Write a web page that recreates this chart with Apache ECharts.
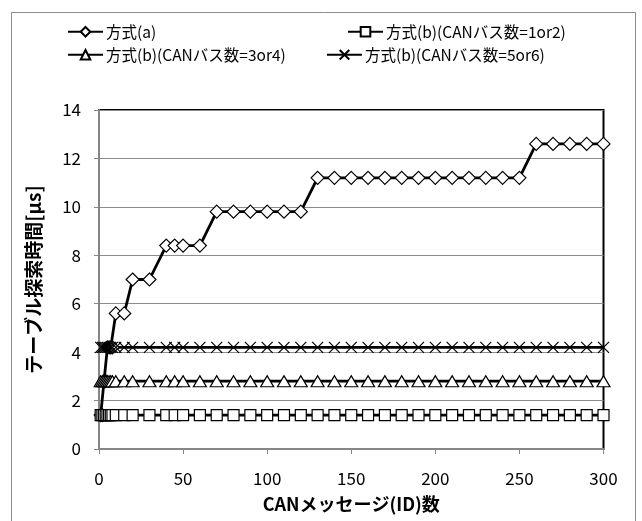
<!DOCTYPE html>
<html>
<head>
<meta charset="utf-8">
<script src="https://cdn.jsdelivr.net/npm/echarts@6/dist/echarts.min.js"></script>
<style>
html,body{margin:0;padding:0;background:#fff;}
#chart{width:642px;height:521px;}
</style>
</head>
<body>
<div id="chart"></div>
<script>
var xValues = [1,2,3,4,5,6,7,8,10,15,20,30,40,45,50,60,70,80,90,100,110,120,130,140,150,160,170,180,190,200,210,220,230,240,250,260,270,280,290,300];
var seriesA = [1.4,1.4,2.8,2.8,4.2,4.2,4.2,4.2,5.6,5.6,7.0,7.0,8.4,8.4,8.4,8.4,9.8,9.8,9.8,9.8,9.8,9.8,11.2,11.2,11.2,11.2,11.2,11.2,11.2,11.2,11.2,11.2,11.2,11.2,11.2,12.6,12.6,12.6,12.6,12.6];
var seriesB12 = [1.4,1.4,1.4,1.4,1.4,1.4,1.4,1.4,1.4,1.4,1.4,1.4,1.4,1.4,1.4,1.4,1.4,1.4,1.4,1.4,1.4,1.4,1.4,1.4,1.4,1.4,1.4,1.4,1.4,1.4,1.4,1.4,1.4,1.4,1.4,1.4,1.4,1.4,1.4,1.4];
var seriesB34 = [2.8,2.8,2.8,2.8,2.8,2.8,2.8,2.8,2.8,2.8,2.8,2.8,2.8,2.8,2.8,2.8,2.8,2.8,2.8,2.8,2.8,2.8,2.8,2.8,2.8,2.8,2.8,2.8,2.8,2.8,2.8,2.8,2.8,2.8,2.8,2.8,2.8,2.8,2.8,2.8];
var seriesB56 = [4.2,4.2,4.2,4.2,4.2,4.2,4.2,4.2,4.2,4.2,4.2,4.2,4.2,4.2,4.2,4.2,4.2,4.2,4.2,4.2,4.2,4.2,4.2,4.2,4.2,4.2,4.2,4.2,4.2,4.2,4.2,4.2,4.2,4.2,4.2,4.2,4.2,4.2,4.2,4.2];
var seriesNames = ['方式(a)','方式(b)(CANバス数=1or2)','方式(b)(CANバス数=3or4)','方式(b)(CANバス数=5or6)'];
var xTicks = [0,50,100,150,200,250,300];
var yTicks = [0,2,4,6,8,10,12,14];

function pairs(xs, ys){ var out=[]; for(var i=0;i<xs.length;i++){ out.push([xs[i], ys[i]]); } return out; }

var FONT = "'Noto Sans CJK JP', 'Noto Sans', sans-serif";
var crossPath = 'path://M0,0L10,10M10,0L0,10';

function mkSeries(name, ys, symbol, size){
  return {
    name: name, type: 'line', data: pairs(xValues, ys),
    symbol: symbol, symbolSize: size, showAllSymbol: true,
    lineStyle: {color: '#000', width: 2.8},
    itemStyle: {color: symbol === crossPath ? '#000' : '#fff', borderColor: '#000', borderWidth: 1.2},
    emphasis: {disabled: true}, animation: false
  };
}

function mkLegend(name, left, top){
  return {
    data: [name], left: left, top: top, itemWidth: 35, itemHeight: 12, itemGap: 4, padding: 0,
    textStyle: {fontFamily: FONT, fontSize: 15.5, color: '#000', padding: [0,0,0,-2]},
    selectedMode: false
  };
}

var chart = echarts.init(document.getElementById('chart'), null, {renderer: 'canvas'});
chart.setOption({
  animation: false,
  backgroundColor: '#fff',
  graphic: [{type: 'rect', shape: {x: 11.5, y: 12.5, width: 624, height: 520}, style: {fill: null, stroke: '#8c8c8c', lineWidth: 1}, z: -1}],
  legend: [
    mkLegend(seriesNames[0], 67, 24),
    mkLegend(seriesNames[1], 347, 24),
    mkLegend(seriesNames[2], 67, 47),
    mkLegend(seriesNames[3], 326, 47)
  ],
  grid: {left: 99, right: 38.5, top: 110, bottom: 72, show: true, borderColor: '#000', borderWidth: 2, backgroundColor: 'transparent'},
  xAxis: {
    type: 'value', min: 0, max: 300, interval: 50,
    name: 'CANメッセージ(ID)数', nameLocation: 'middle', nameGap: 46,
    nameTextStyle: {fontFamily: FONT, fontSize: 18, fontWeight: 'bold', color: '#000'},
    axisLine: {show: true, lineStyle: {color: '#868686', width: 2}},
    axisTick: {show: true, inside: false, length: 5, lineStyle: {color: '#868686'}},
    axisLabel: {fontFamily: FONT, fontSize: 17, color: '#000', margin: 21,
      formatter: function(v){ return xTicks.indexOf(v) >= 0 ? String(v) : ''; }},
    splitLine: {show: false}
  },
  yAxis: {
    type: 'value', min: 0, max: 14, interval: 2,
    name: 'テーブル探索時間[μs]', nameLocation: 'middle', nameGap: 56,
    nameTextStyle: {fontFamily: FONT, fontSize: 19, fontWeight: 'bold', color: '#000'},
    axisLine: {show: true, lineStyle: {color: '#868686', width: 2}},
    axisTick: {show: true, inside: false, length: 5, lineStyle: {color: '#868686'}},
    axisLabel: {fontFamily: FONT, fontSize: 17, color: '#000', margin: 18,
      formatter: function(v){ return yTicks.indexOf(v) >= 0 ? String(v) : ''; }},
    splitLine: {show: true, lineStyle: {color: '#8c8c8c', width: 1}}
  },
  series: [
    mkSeries(seriesNames[0], seriesA, 'diamond', [13, 13]),
    mkSeries(seriesNames[1], seriesB12, 'rect', [11, 11]),
    mkSeries(seriesNames[2], seriesB34, 'triangle', [13, 11]),
    mkSeries(seriesNames[3], seriesB56, crossPath, [11, 11])
  ]
});
</script>
</body>
</html>
